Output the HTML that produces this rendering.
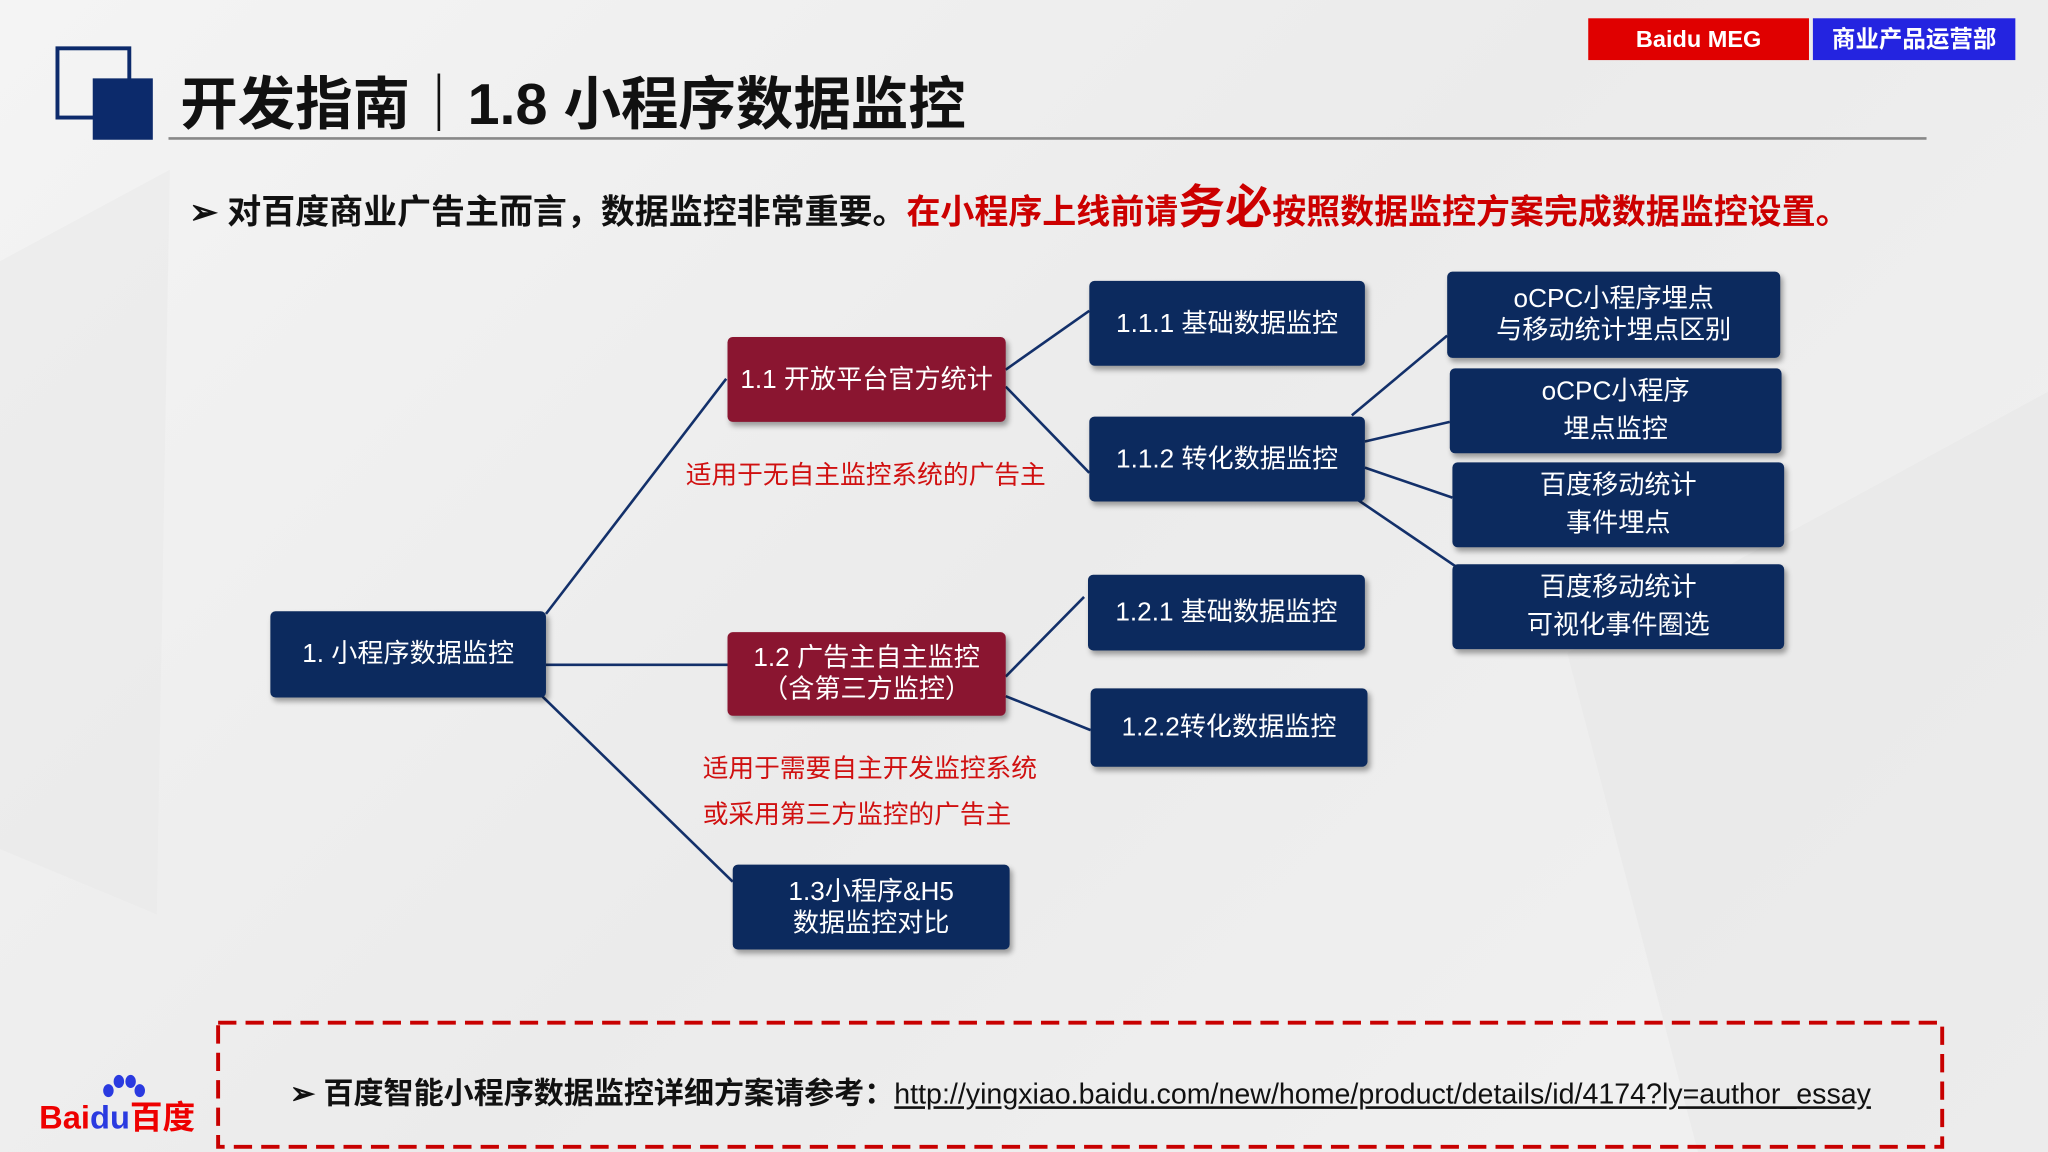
<!DOCTYPE html>
<html><head><meta charset="utf-8"><style>
body{margin:0;width:2048px;height:1152px;overflow:hidden;background:#efefef;font-family:"Liberation Sans","Noto Sans CJK SC",sans-serif}
#w{position:absolute;left:0;top:0;width:1568px;height:882px;transform:scale(1.30612);transform-origin:0 0;background:linear-gradient(135deg,#f4f4f4,#ebebeb 50%,#f2f2f2)}
.a{position:absolute}
.n{position:absolute;background:#0c2a5e;color:#fff;border-radius:4px;display:flex;align-items:center;justify-content:center;text-align:center;font-size:20px;line-height:24px;box-shadow:2px 3px 4px rgba(0,0,0,.35)}
.r{background:#8a1530}
.lab{position:absolute;color:#d01010;font-size:19.7px;white-space:nowrap}
</style></head><body><div id="w">
<svg class="a" style="left:0;top:0" width="1568" height="882">
<polygon points="0,200 130,130 120,700 0,650" fill="#e8e8e8" opacity=".5"/>
<polygon points="1200,500 1568,300 1568,882 1300,882" fill="#e6e6e6" opacity=".5"/>
<g stroke="#13306a" stroke-width="2" fill="none">
<line x1="418" y1="470" x2="556" y2="290"/><line x1="418" y1="509" x2="557" y2="509"/><line x1="414" y1="532" x2="561" y2="675"/>
<line x1="770" y1="283" x2="834" y2="238"/><line x1="770" y1="296" x2="834" y2="362"/>
<line x1="770" y1="518" x2="830" y2="457"/><line x1="770" y1="533" x2="835" y2="559"/>
<line x1="1035" y1="318" x2="1108" y2="257"/><line x1="1045" y1="338" x2="1110" y2="323"/>
<line x1="1045" y1="358" x2="1112" y2="381"/><line x1="1040" y1="383" x2="1115" y2="434"/>
</g>
<rect x="44" y="37" width="55" height="53" fill="none" stroke="#0c2a6b" stroke-width="3"/>
<rect x="71" y="60" width="46" height="47" fill="#0c2a6b"/>
<line x1="129" y1="106" x2="1475" y2="106" stroke="#888" stroke-width="2"/>
<rect x="167" y="783" width="1320" height="95" fill="none" stroke="#c80000" stroke-width="3" stroke-dasharray="14,7"/>
</svg>
<div class="a" style="left:138px;top:44px;font-size:44px;font-weight:bold;color:#111;white-space:nowrap">开发指南｜1.8 小程序数据监控</div>
<div class="a" style="left:1216px;top:14px;width:169px;height:32px;background:#e00000;color:#fff;font-weight:bold;font-size:18px;line-height:32px;text-align:center">Baidu MEG</div>
<div class="a" style="left:1388px;top:14px;width:155px;height:32px;background:#2424e0;color:#fff;font-weight:bold;font-size:18px;line-height:32px;text-align:center">商业产品运营部</div>
<div class="a" style="left:145px;top:138px;font-size:26px;font-weight:bold;color:#111;white-space:nowrap;line-height:42px">➢ 对百度商业广告主而言，数据监控非常重要。<span style="color:#c00">在小程序上线前请<span style="font-size:36px">务必</span>按照数据监控方案完成数据监控设置。</span></div>
<div class="n" style="left:207px;top:468px;width:211px;height:66px">1. 小程序数据监控</div>
<div class="n r" style="left:557px;top:258px;width:213px;height:65px">1.1 开放平台官方统计</div>
<div class="n r" style="left:557px;top:484px;width:213px;height:64px">1.2 广告主自主监控<br>（含第三方监控）</div>
<div class="n" style="left:561px;top:662px;width:212px;height:65px">1.3小程序&amp;H5<br>数据监控对比</div>
<div class="n" style="left:834px;top:215px;width:211px;height:65px">1.1.1 基础数据监控</div>
<div class="n" style="left:834px;top:319px;width:211px;height:65px">1.1.2 转化数据监控</div>
<div class="n" style="left:833px;top:440px;width:212px;height:58px">1.2.1 基础数据监控</div>
<div class="n" style="left:835px;top:527px;width:212px;height:60px">1.2.2转化数据监控</div>
<div class="n" style="left:1108px;top:208px;width:255px;height:66px">oCPC小程序埋点<br>与移动统计埋点区别</div>
<div class="n" style="left:1110px;top:282px;width:254px;height:65px;line-height:29px">oCPC小程序<br>埋点监控</div>
<div class="n" style="left:1112px;top:354px;width:254px;height:65px;line-height:29px">百度移动统计<br>事件埋点</div>
<div class="n" style="left:1112px;top:432px;width:254px;height:65px;line-height:29px">百度移动统计<br>可视化事件圈选</div>
<div class="lab" style="left:525px;top:347px">适用于无自主监控系统的广告主</div>
<div class="lab" style="left:538px;top:572px">适用于需要自主开发监控系统</div>
<div class="lab" style="left:538px;top:607px">或采用第三方监控的广告主</div>
<div class="a" style="left:222px;top:818px;white-space:nowrap;color:#111"><b style="font-size:23px">➢ 百度智能小程序数据监控详细方案请参考：</b><span style="text-decoration:underline;font-size:21.9px">http://yingxiao.baidu.com/new/home/product/details/id/4174?ly=author_essay</span></div>
<div class="a" style="left:30px;top:836px;font-size:25px;font-weight:bold;color:#e00;white-space:nowrap">Bai<span style="color:#2a3ae0">du</span>百度</div>
<svg class="a" style="left:75px;top:822px" width="40" height="20"><g fill="#2a3ae0"><ellipse cx="8" cy="13" rx="4" ry="5"/><ellipse cx="16" cy="6" rx="4" ry="5"/><ellipse cx="25" cy="6" rx="4" ry="5"/><ellipse cx="32" cy="13" rx="4" ry="5"/></g></svg>
</div></body></html>
